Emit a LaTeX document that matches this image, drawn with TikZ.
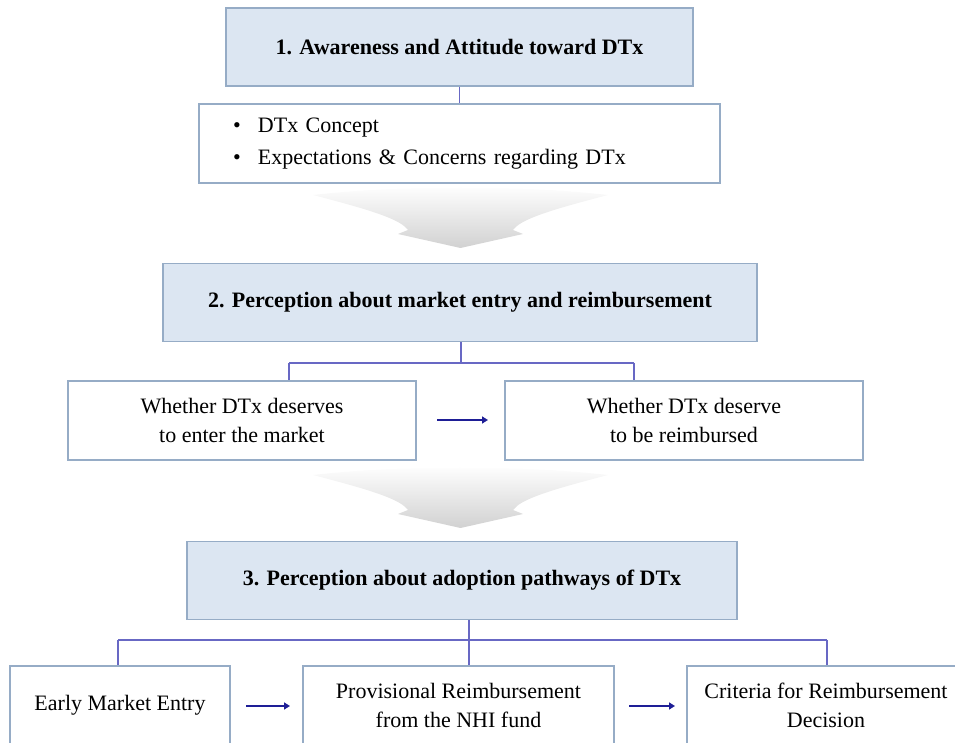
\documentclass[tikz,border=0pt]{standalone}
\usepackage{fontspec}
\setmainfont{Liberation Serif}
\usetikzlibrary{positioning,arrows.meta}

\definecolor{hdrfill}{RGB}{220,230,242}
\definecolor{boxline}{RGB}{150,172,198}
\definecolor{linkline}{RGB}{104,104,196}
\definecolor{navyarrow}{RGB}{30,30,150}

\tikzset{
	header/.style={draw=boxline, fill=hdrfill, line width=0.8pt, minimum height=39pt,
		font=\fontsize{11}{14.5}\selectfont\bfseries},
	plainbox/.style={draw=boxline, fill=white, line width=0.8pt, minimum height=39.5pt,
		align=center, font=\fontsize{11}{14.5}\selectfont},
	link/.style={draw=linkline, line width=0.7pt},
	nextarrow/.style={draw=navyarrow, line width=1.1pt, -{Triangle[length=3pt,width=3.5pt]}},
	bigdown/.style={shading=axis, top color=white, bottom color=black!18, draw=none}
}

\begin{document}
\begin{tikzpicture}[x=0.5pt,y=-0.5pt]
	\clip (0,0) rectangle (955,743);
	% wide grey arrows between the stages
	\foreach \dy in {0,280}
	{
		\path[bigdown, shift={(0,\dy)}] (313,195) .. controls (355,206) and (392,216) .. (404,226)
			-- (408,230) -- (398,234) -- (460.5,248) -- (523,234) -- (513,230) -- (517,226)
			.. controls (529,216) and (566,206) .. (608,195)
			.. controls (520,185) and (400,185) .. cycle;
	}
	% stage 1
	\node[header, minimum width=233.5pt] (aware) at (459.5,47) {1. Awareness and Attitude toward DTx};
	\node[plainbox, align=left, inner xsep=17pt, text width=226.5pt] (topics) at (459.5,143.5)
		{\makebox[12.5pt][l]{\textbullet}DTx Concept\\[1.2pt] \makebox[12.5pt][l]{\textbullet}Expectations \& Concerns regarding DTx};
	\draw[link] (aware.south) -- (topics.north);
	% stage 2
	\node[header, minimum width=297pt] (market) at (460,302.5) {2. Perception about market entry and reimbursement};
	\node[plainbox, minimum width=174pt] (enter) at (242,420.5) {Whether DTx deserves\\to enter the market};
	\node[plainbox, minimum width=179pt] (reimb) at (684,420.5) {Whether DTx deserve\\to be reimbursed};
	\coordinate (m1) at (461,363);
	\draw[link] (market.south -| m1) -- (m1);
	\draw[link] (289,363) -- (634,363);
	\draw[link] (289,363) -- (enter.north -| 289,0);
	\draw[link] (634,363) -- (reimb.north -| 634,0);
	\draw[nextarrow] (437,420) -- (488,420);
	% stage 3
	\node[header, minimum width=275pt] (adopt) at (462,580.5) {3. Perception about adoption pathways of DTx};
	\node[plainbox, minimum width=110pt] (early) at (120,705.5) {Early Market Entry};
	\node[plainbox, minimum width=155.5pt] (provis) at (458.5,705.5) {Provisional Reimbursement\\from the NHI fund};
	\node[plainbox, minimum width=139pt] (crit) at (826,705.5) {Criteria for Reimbursement\\Decision};
	\coordinate (a1) at (469,640);
	\draw[link] (adopt.south -| a1) -- (provis.north -| a1);
	\draw[link] (118,640) -- (827,640);
	\draw[link] (118,640) -- (early.north -| 118,0);
	\draw[link] (827,640) -- (crit.north -| 827,0);
	\draw[nextarrow] (246,706) -- (290,706);
	\draw[nextarrow] (629,706) -- (675,706);
\end{tikzpicture}
\end{document}
